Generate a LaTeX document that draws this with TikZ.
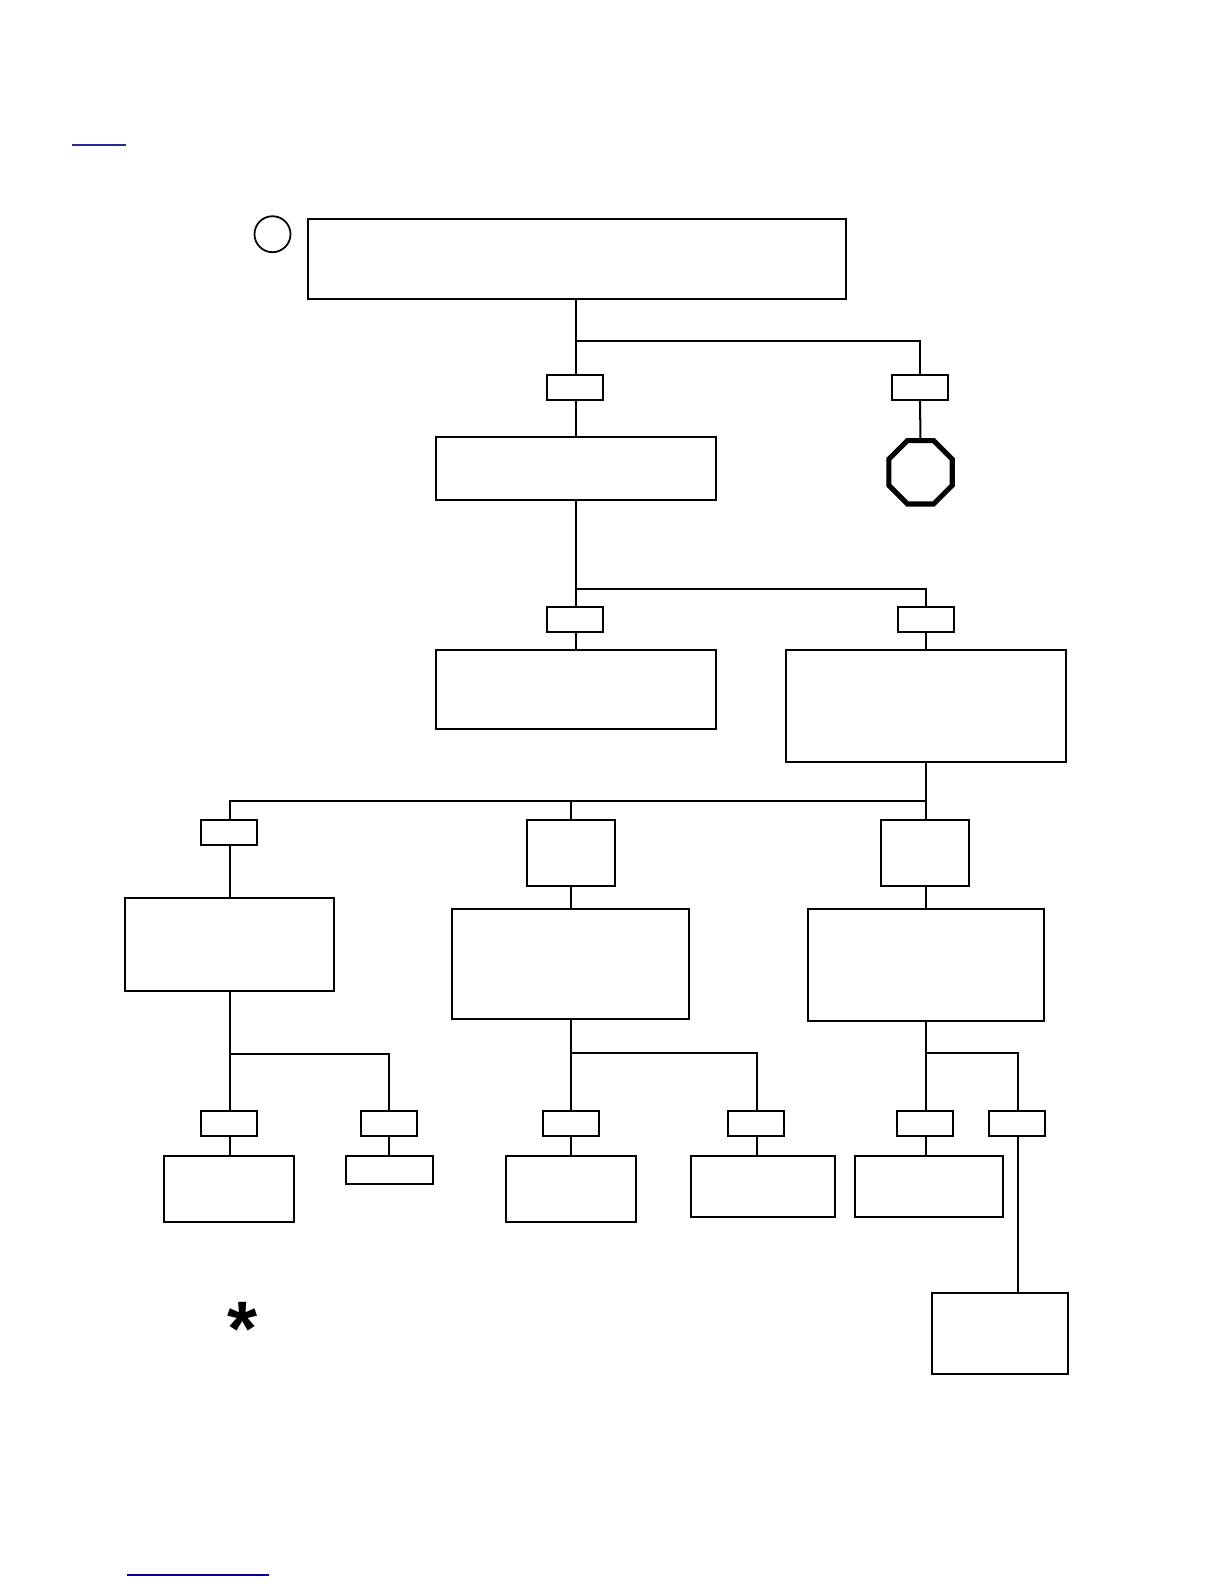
\documentclass[tikz,border=0pt]{standalone}
\usepackage{fontspec}
\setmainfont{Liberation Sans}
\usepackage{xcolor}
\usetikzlibrary{positioning,shapes.geometric}
\definecolor{linkblue}{RGB}{40,40,150}
\definecolor{linknavy}{RGB}{0,0,160}

\begin{document}
\begin{tikzpicture}[
    x=0.02cm, y=-0.02cm,
    wire/.style={line width=1.15pt},
    box/.style={draw, line width=1.15pt, outer sep=0pt, inner sep=0pt},
    wh/.style n args={2}{minimum width=#1*0.02cm, minimum height=#2*0.02cm},
    tag/.style={box, wh={56}{25}},
    linkline/.style={line width=0.6pt}
]
\useasboundingbox (0,0) rectangle (1224,1584);

% Top of the tree
\node[draw, circle, line width=1pt, inner sep=0pt, minimum size=36*0.02cm] (startmark) at (272.5,234.2) {};
\node[box, wh={538}{80}] (topbox) at (577,259) {};
\coordinate (topfork) at (576.4,341);
\node[tag] (toptagl) at (575,387.5) {};
\node[tag] (toptagr) at (920,387.5) {};
\node[box, wh={280}{63}] (secondbox) at (576,468.5) {};
\node[draw, regular polygon, regular polygon sides=8, line width=2.9pt, inner sep=0pt, outer sep=0pt, minimum size=68.6*0.02cm] (stopsign) at (920.5,472.3) {};

\draw[wire] (topbox.south -| topfork) -- (topfork) -- (topfork -| toptagr.north) -- (toptagr.north);
\draw[wire] (topfork) -- (topfork |- toptagl.north);
\draw[wire] (topfork |- toptagl.south) -- (topfork |- secondbox.north);
\draw[wire] (toptagr.south) -- (stopsign.north);

% Second level
\coordinate (midfork) at (576.4,589);
\node[tag] (midtagl) at (575,619.5) {};
\node[tag] (midtagr) at (926,619.5) {};
\node[box, wh={280}{79.5}] (leftbox) at (576,689.4) {};
\node[box, wh={280}{112.2}] (rightbox) at (926,705.7) {};

\draw[wire] (secondbox.south -| midfork) -- (midfork) -- (midfork -| midtagr.north) -- (midtagr.north);
\draw[wire] (midfork) -- (midfork |- midtagl.north);
\draw[wire] (midfork |- midtagl.south) -- (midfork |- leftbox.north);
\draw[wire] (midtagr.south) -- (rightbox.north);

% Three branches
\coordinate (rowfork) at (926,801);
\coordinate (branchl) at (230.3,801);
\coordinate (branchm) at (570.9,801);
\node[tag] (rowtagl) at (229,832.5) {};
\node[box, wh={88}{66}] (rowtagm) at (571,853) {};
\node[box, wh={88}{66}] (rowtagr) at (925,853) {};
\node[box, wh={209}{93}] (boxl) at (229.5,944.5) {};
\node[box, wh={237.4}{110}] (boxm) at (570.4,964) {};
\node[box, wh={236}{112}] (boxr) at (926,965) {};

\draw[wire] (rightbox.south) -- (rowfork) -- (branchl) -- (branchl |- rowtagl.north);
\draw[wire] (rowfork) -- (rowfork |- rowtagr.north);
\draw[wire] (branchm) -- (branchm |- rowtagm.north);
\draw[wire] (branchl |- rowtagl.south) -- (branchl |- boxl.north);
\draw[wire] (branchm |- rowtagm.south) -- (branchm |- boxm.north);
\draw[wire] (rowfork |- rowtagr.south) -- (rowfork |- boxr.north);

% Left leaves
\coordinate (forkl) at (230.3,1053.6);
\coordinate (forkla) at (389,1053.6);
\node[tag] (tagla) at (229,1123.5) {};
\node[tag] (taglb) at (389,1123.5) {};
\node[box, wh={130}{66.2}] (leafla) at (229,1189) {};
\node[box, wh={87.4}{28.4}] (leaflb) at (389.6,1169.8) {};

\draw[wire] (boxl.south -| forkl) -- (forkl) -- (forkl |- tagla.north);
\draw[wire] (forkl) -- (forkla) -- (taglb.north);
\draw[wire] (forkl |- tagla.south) -- (forkl |- leafla.north);
\draw[wire] (taglb.south) -- (forkla |- leaflb.north);

% Middle leaves
\coordinate (forkm) at (570.9,1052.6);
\coordinate (forkma) at (756.5,1052.6);
\node[tag] (tagma) at (571,1123.5) {};
\node[tag] (tagmb) at (756,1123.5) {};
\node[box, wh={130}{66.2}] (leafma) at (571,1189) {};
\node[box, wh={144}{61.2}] (leafmb) at (763,1186.5) {};

\draw[wire] (boxm.south -| forkm) -- (forkm) -- (forkm |- tagma.north);
\draw[wire] (forkm) -- (forkma) -- (forkma |- tagmb.north);
\draw[wire] (forkm |- tagma.south) -- (forkm |- leafma.north);
\draw[wire] (forkma |- tagmb.south) -- (forkma |- leafmb.north);

% Right leaves
\coordinate (forkr) at (926,1052.6);
\coordinate (forkra) at (1018,1052.6);
\node[tag] (tagra) at (925,1123.5) {};
\node[tag] (tagrb) at (1017,1123.5) {};
\node[box, wh={148}{61.2}] (leafra) at (929,1186.5) {};
\node[box, wh={136}{81}] (leafrb) at (1000,1333) {};

\draw[wire] (boxr.south) -- (forkr) -- (forkr |- tagra.north);
\draw[wire] (forkr) -- (forkra) -- (forkra |- tagrb.north);
\draw[wire] (forkr |- tagra.south) -- (forkr |- leafra.north);
\draw[wire] (forkra |- tagrb.south) -- (forkra |- leafrb.north);

% Footnote mark and link rules
\node[inner sep=0pt, font=\fontsize{44}{44}\selectfont\bfseries] (starmark) at (243,1328.5) {*};
\coordinate (linkat) at (72,145);
\coordinate (linkaz) at (126,145);
\coordinate (linkbt) at (127,1575);
\coordinate (linkbz) at (269,1575);
\draw[linkline, linkblue] (linkat) -- (linkaz);
\draw[linkline, linknavy] (linkbt) -- (linkbz);
\end{tikzpicture}
\end{document}
